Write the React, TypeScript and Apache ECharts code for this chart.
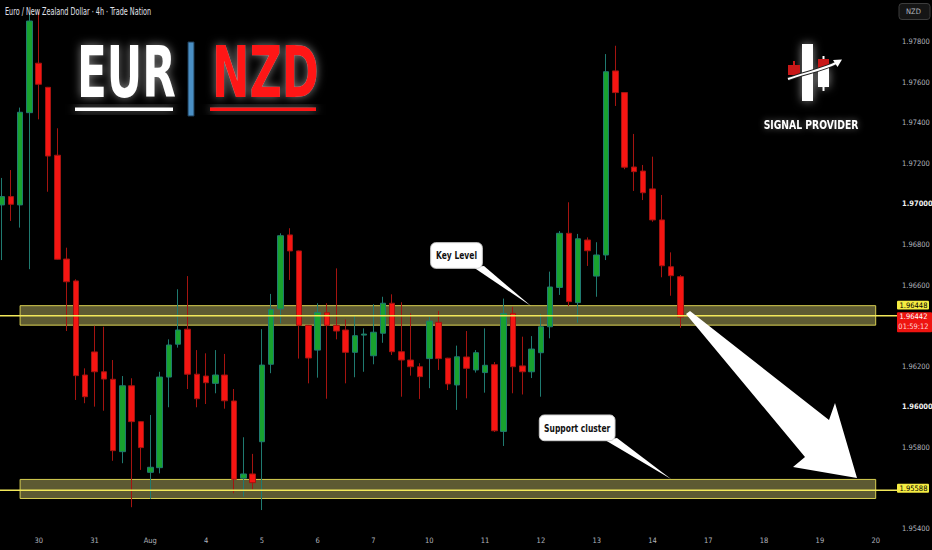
import { useEffect, useRef } from "react";
import * as echarts from "echarts";

// 4h slots on the time axis; a day label sits on the first slot of each day
const slotCount = 95;
const dayLabels = ["30", "31", "Aug", "4", "5", "6", "7", "10", "11", "12", "13", "14", "17", "18", "19", "20"];
const dayLabelSlots = [4, 10, 16, 22, 28, 34, 40, 46, 52, 58, 64, 70, 76, 82, 88, 94];

// EURNZD 4h candles
const opens = [
  1.96995, 1.97036, 1.96995, 1.9745, 1.97694, 1.97575, 1.9724, 1.96728, 1.9662, 1.96156,
  1.9627, 1.96172, 1.96135, 1.95778, 1.96103, 1.95926, 1.95676, 1.95699, 1.96146, 1.96308,
  1.96382, 1.9616, 1.96151, 1.96115, 1.96156, 1.96028, 1.95647, 1.95668, 1.95827, 1.96209,
  1.96482, 1.96847, 1.96768, 1.96401, 1.96279, 1.96463, 1.96401, 1.96378, 1.96268, 1.96353,
  1.96251, 1.96362, 1.9651, 1.96271, 1.9623, 1.96197, 1.96237, 1.96416, 1.96239, 1.96107,
  1.96245, 1.96181, 1.96168, 1.96207, 1.95878, 1.9646, 1.96201, 1.96172, 1.96266, 1.96394,
  1.96588, 1.96855, 1.96513, 1.96822, 1.96644, 1.96748, 1.97656, 1.97549, 1.97182, 1.97162,
  1.97074, 1.96921, 1.9669, 1.96641,
];
const closes = [
  1.97036, 1.96998, 1.97452, 1.97902, 1.9759, 1.97236, 1.96727, 1.96616, 1.96153, 1.96049,
  1.96172, 1.96136, 1.95783, 1.96103, 1.95926, 1.95798, 1.95701, 1.96146, 1.96304, 1.96378,
  1.9616, 1.96039, 1.96118, 1.96156, 1.96029, 1.95642, 1.95668, 1.95625, 1.96205, 1.9648,
  1.96843, 1.96768, 1.96401, 1.9624, 1.96465, 1.96401, 1.96373, 1.96268, 1.9635, 1.96358,
  1.96367, 1.9651, 1.96271, 1.9623, 1.96197, 1.96148, 1.96422, 1.96237, 1.96112, 1.96246,
  1.96189, 1.96266, 1.96204, 1.95881, 1.9646, 1.96197, 1.96172, 1.96284, 1.96394, 1.9659,
  1.96855, 1.96518, 1.96828, 1.96769, 1.96748, 1.97652, 1.97549, 1.97181, 1.97159, 1.97055,
  1.96921, 1.96695, 1.96646, 1.96442,
];
const lows = [
  1.96723, 1.96916, 1.96883, 1.96678, 1.97417, 1.9706, 1.96725, 1.96373, 1.96033, 1.96017,
  1.96, 1.9598, 1.95733, 1.95721, 1.95504, 1.95688, 1.95545, 1.95671, 1.95997, 1.96291,
  1.96087, 1.95997, 1.96013, 1.96066, 1.9599, 1.95573, 1.95556, 1.95592, 1.9549, 1.96165,
  1.96411, 1.96625, 1.96237, 1.96115, 1.96143, 1.96039, 1.96332, 1.96115, 1.96145, 1.96172,
  1.96209, 1.96315, 1.96255, 1.96049, 1.96153, 1.96038, 1.96091, 1.96181, 1.96082, 1.95984,
  1.96041, 1.96168, 1.96069, 1.95875, 1.95806, 1.96066, 1.9606, 1.96141, 1.96049, 1.96337,
  1.96551, 1.96496, 1.96414, 1.96694, 1.96542, 1.96723, 1.97483, 1.97171, 1.97064, 1.97019,
  1.96912, 1.96638, 1.96547, 1.96389,
];
const highs = [
  1.97128, 1.97167, 1.97475, 1.9794, 1.97948, 1.97577, 1.97373, 1.96784, 1.96628, 1.96189,
  1.96399, 1.96394, 1.9623, 1.96151, 1.9614, 1.95928, 1.95959, 1.96172, 1.96332, 1.96579,
  1.96644, 1.96279, 1.96263, 1.96279, 1.9626, 1.96087, 1.95849, 1.95767, 1.96382, 1.96556,
  1.96855, 1.9688, 1.9677, 1.96403, 1.9651, 1.9651, 1.96682, 1.9643, 1.96452, 1.96386,
  1.96505, 1.96542, 1.96554, 1.96515, 1.9646, 1.96214, 1.96444, 1.96472, 1.96241, 1.96301,
  1.96373, 1.96279, 1.96386, 1.9622, 1.96533, 1.96492, 1.96345, 1.96348, 1.96457, 1.96666,
  1.96866, 1.97008, 1.96852, 1.96835, 1.96811, 1.97739, 1.9778, 1.97551, 1.97345, 1.97192,
  1.97233, 1.97044, 1.96761, 1.96649,
];

// drawn levels and zones
const keyLevel = 1.96448;
const supportLevel = 1.95588;
const keyZone = [1.96402, 1.96498];
const supportZone = [1.95547, 1.95641];
const zoneFromSlot = 2;
const lastPrice = 1.96442;
const countdown = "01:59:12";

// price axis; ticks under the price tags are hidden, as on the chart
const priceMin = 1.954;
const priceMax = 1.98;
const priceStep = 0.002;
const coveredTicks = ["1.96400", "1.95600"];

const COND = '"DejaVu Sans Condensed", "DejaVu Sans", sans-serif';
const UP = "#18a22f";
const DOWN = "#f51512";
const LEVEL = "#f2e85a";

function buildOption() {
  const categories = Array.from({ length: slotCount }, (_, i) => String(i));
  const candles = opens.map((o, i) => [o, closes[i], lows[i], highs[i]]);
  const zoneStyle = {
    color: "rgba(222,214,120,0.42)",
    borderColor: "#d8cf52",
    borderWidth: 1,
  };
  return {
    backgroundColor: "#000",
    animation: false,
    grid: { left: 1.5, right: 56.3, top: 1.15, bottom: 21.7, outerBoundsMode: "none", containLabel: false },
    xAxis: {
      type: "category",
      data: categories,
      boundaryGap: false,
      axisLine: { show: false },
      axisTick: { show: false },
      splitLine: { show: false },
      axisLabel: {
        interval: (index: number) => dayLabelSlots.includes(index),
        formatter: (_v: string, index: number) => {
          const k = dayLabelSlots.indexOf(index);
          return k >= 0 ? dayLabels[k] : "";
        },
        color: "#b2b5be",
        fontSize: 7.5,
        fontFamily: COND,
        margin: 8,
      },
    },
    yAxis: {
      type: "value",
      position: "right",
      min: priceMin,
      max: priceMax,
      interval: priceStep,
      axisLine: { show: false },
      axisTick: { show: false },
      splitLine: { show: false },
      axisLabel: {
        showMaxLabel: false,
        margin: 26.3,
        color: "#b2b5be",
        fontSize: 7.5,
        fontFamily: COND,
        formatter: (v: number) => {
          const s = v.toFixed(5);
          if (coveredTicks.includes(s)) return "";
          const whole = Math.abs(v * 100 - Math.round(v * 100)) < 1e-6;
          return whole ? `{b|${s}}` : s;
        },
        rich: {
          b: { color: "#f0f0f0", fontWeight: "bold", fontSize: 7.5, fontFamily: COND },
        },
      },
    },
    series: [
      {
        type: "candlestick",
        data: candles,
        barWidth: 6,
        clip: false,
        itemStyle: {
          color: UP,
          color0: DOWN,
          borderColor: "#1f7a70",
          borderColor0: "#a51410",
          borderWidth: 1,
        },
        markArea: {
          silent: true,
          itemStyle: zoneStyle,
          data: [
            [
              { xAxis: zoneFromSlot, yAxis: keyZone[1] },
              { xAxis: slotCount - 1, yAxis: keyZone[0] },
            ],
            [
              { xAxis: zoneFromSlot, yAxis: supportZone[1] },
              { xAxis: slotCount - 1, yAxis: supportZone[0] },
            ],
          ],
        },
      },
    ],
  };
}

function buildGraphics(py: (p: number) => number) {
  const Z = 20;
  const glow = { shadowBlur: 10, shadowColor: "rgba(255,255,255,0.55)" };
  const textGlow = { textShadowBlur: 10, textShadowColor: "rgba(255,255,255,0.5)" };
  const logoRed = "#c81818";
  const yKey = py(keyLevel);
  const ySup = py(supportLevel);
  const yLast = py(lastPrice);

  const callout = (x: number, y: number, w: number, h: number, label: string, pointer: number[][]) => [
    { type: "polygon", z: Z, shape: { points: pointer }, style: { fill: "#fff" } },
    {
      type: "rect",
      z: Z,
      shape: { x, y, width: w, height: h, r: 5 },
      style: { fill: "#fff", stroke: "#d0d0d0", lineWidth: 1 },
    },
    {
      type: "text",
      z: Z + 1,
      x: x + w / 2,
      y: y + h / 2,
      scaleX: 0.8,
      style: {
        text: label,
        x: 0,
        y: 0,
        textAlign: "center",
        textVerticalAlign: "middle",
        fill: "#111",
        fontSize: 10.5,
        fontWeight: "bold",
        fontFamily: COND,
      },
    },
  ];

  const tag = (y: number, h: number, w: number, fill: string) => ({
    type: "rect",
    z: Z + 2,
    shape: { x: 897, y, width: w, height: h, r: 1 },
    style: { fill },
  });
  const tagText = (text: string, y: number, fill: string) => ({
    type: "text",
    z: Z + 3,
    style: {
      text,
      x: 913.5,
      y,
      textAlign: "center",
      textVerticalAlign: "middle",
      fill,
      fontSize: 7.5,
      fontFamily: COND,
    },
  });
  const levelLine = (y: number) => ({
    type: "line",
    z: 3,
    shape: { x1: 0, y1: y, x2: 897, y2: y },
    style: { stroke: LEVEL, lineWidth: 1.5 },
  });

  return [
    // legend line
    {
      type: "text",
      z: Z,
      x: 5,
      y: 12,
      scaleX: 0.72,
      style: {
        text: "Euro / New Zealand Dollar · 4h · Trade Nation",
        x: 0,
        y: 0,
        textVerticalAlign: "middle",
        fill: "#e0e3eb",
        fontSize: 10,
        fontFamily: COND,
      },
    },
    // EUR | NZD title
    {
      type: "text",
      z: Z,
      x: 77,
      y: 72.5,
      scaleX: 0.683,
      style: {
        text: "EUR",
        x: 0,
        y: 0,
        textVerticalAlign: "middle",
        fill: "#ffffff",
        fontSize: 71,
        fontWeight: "bold",
        fontFamily: COND,
        ...textGlow,
        ...glow,
      },
    },
    { type: "rect", z: Z, shape: { x: 75, y: 107.5, width: 98, height: 3.5 }, style: { fill: "#fff", ...glow } },
    {
      type: "rect",
      z: Z,
      shape: { x: 188, y: 42, width: 6, height: 74 },
      style: { fill: "#4a8fc4", stroke: "#1c3b55", lineWidth: 1 },
    },
    {
      type: "text",
      z: Z,
      x: 212,
      y: 72.5,
      scaleX: 0.7,
      style: {
        text: "NZD",
        x: 0,
        y: 0,
        textVerticalAlign: "middle",
        fill: "#ff1414",
        fontSize: 71,
        fontWeight: "bold",
        fontFamily: COND,
        ...textGlow,
        ...glow,
      },
    },
    { type: "rect", z: Z, shape: { x: 210, y: 107.5, width: 106, height: 3.5 }, style: { fill: "#ff1414", ...glow } },

    // signal provider logo
    { type: "line", z: Z, shape: { x1: 808, y1: 38, x2: 808, y2: 107 }, style: { stroke: "#fff", lineWidth: 2, ...glow } },
    { type: "rect", z: Z, shape: { x: 802, y: 44, width: 11, height: 57 }, style: { fill: "#fff", ...glow } },
    { type: "line", z: Z, shape: { x1: 823.5, y1: 56, x2: 823.5, y2: 91 }, style: { stroke: "#fff", lineWidth: 2 } },
    { type: "rect", z: Z, shape: { x: 818, y: 68, width: 11, height: 19 }, style: { fill: "#fff", ...glow } },
    { type: "rect", z: Z, shape: { x: 818, y: 59, width: 11, height: 9 }, style: { fill: logoRed } },
    { type: "line", z: Z, shape: { x1: 794, y1: 61, x2: 794, y2: 66 }, style: { stroke: logoRed, lineWidth: 2 } },
    { type: "rect", z: Z, shape: { x: 788, y: 65, width: 12, height: 10 }, style: { fill: logoRed } },
    {
      type: "bezierCurve",
      z: Z,
      shape: { x1: 788, y1: 79, cpx1: 805, cpy1: 73, cpx2: 825, cpy2: 69, x2: 837, y2: 62.5 },
      style: { stroke: "#222", lineWidth: 4, fill: "none" },
    },
    {
      type: "bezierCurve",
      z: Z,
      shape: { x1: 788, y1: 79, cpx1: 805, cpy1: 73, cpx2: 825, cpy2: 69, x2: 837, y2: 62.5 },
      style: { stroke: "#fff", lineWidth: 2, fill: "none" },
    },
    { type: "polygon", z: Z, shape: { points: [[842, 59.5], [833, 60], [837.5, 67]] }, style: { fill: "#fff" } },
    {
      type: "text",
      z: Z,
      x: 811,
      y: 124.7,
      scaleX: 0.79,
      style: {
        text: "SIGNAL PROVIDER",
        x: 0,
        y: 0,
        textAlign: "center",
        textVerticalAlign: "middle",
        fill: "#fff",
        fontSize: 13,
        fontWeight: "bold",
        fontFamily: COND,
        textShadowBlur: 6,
        textShadowColor: "rgba(255,255,255,0.4)",
      },
    },

    // level lines, run on to their price tags
    levelLine(yKey),
    levelLine(ySup),

    // callouts
    ...callout(430.7, 242.7, 51.6, 25.6, "Key Level", [[473, 267], [484, 266], [531, 306]]),
    ...callout(539.3, 415, 75.7, 25.7, "Support cluster", [[605, 440], [617, 438], [671, 479]]),

    // projection arrow
    {
      type: "polygon",
      z: Z,
      shape: {
        points: [[690, 311], [829, 420], [835, 403], [857, 478], [793, 467], [805, 457], [686, 314]],
      },
      style: { fill: "#fff" },
    },

    // price axis tags
    {
      type: "rect",
      z: Z + 2,
      shape: { x: 899, y: 3.5, width: 31, height: 16, r: 3 },
      style: { fill: "#151515", stroke: "#3c3c3c", lineWidth: 1 },
    },
    tagText("NZD", 11.5, "#b2b5be"),
    tag(yKey - 15, 8.8, 32, "#f5ec42"),
    tagText(keyLevel.toFixed(5), yKey - 10.6, "#000"),
    tag(ySup - 6.5, 9, 32, "#f5ec42"),
    tagText(supportLevel.toFixed(5), ySup - 2, "#000"),
    tag(yLast - 4.8, 20, 35, "#ee1410"),
    tagText(lastPrice.toFixed(5), yLast - 0.5, "#fff"),
    tagText(countdown, yLast + 9.5, "#ffd6d6"),
  ];
}

export default function App() {
  const ref = useRef<HTMLDivElement>(null);

  useEffect(() => {
    document.body.style.margin = "0";
    document.body.style.background = "#000";
    if (!ref.current) return;
    const chart = echarts.init(ref.current, null, { renderer: "svg" });
    chart.setOption(buildOption());
    const py = (p: number) => chart.convertToPixel({ yAxisIndex: 0 }, p) as number;
    chart.setOption({ graphic: buildGraphics(py) });
    return () => chart.dispose();
  }, []);

  return <div ref={ref} style={{ width: 932, height: 550 }} />;
}
